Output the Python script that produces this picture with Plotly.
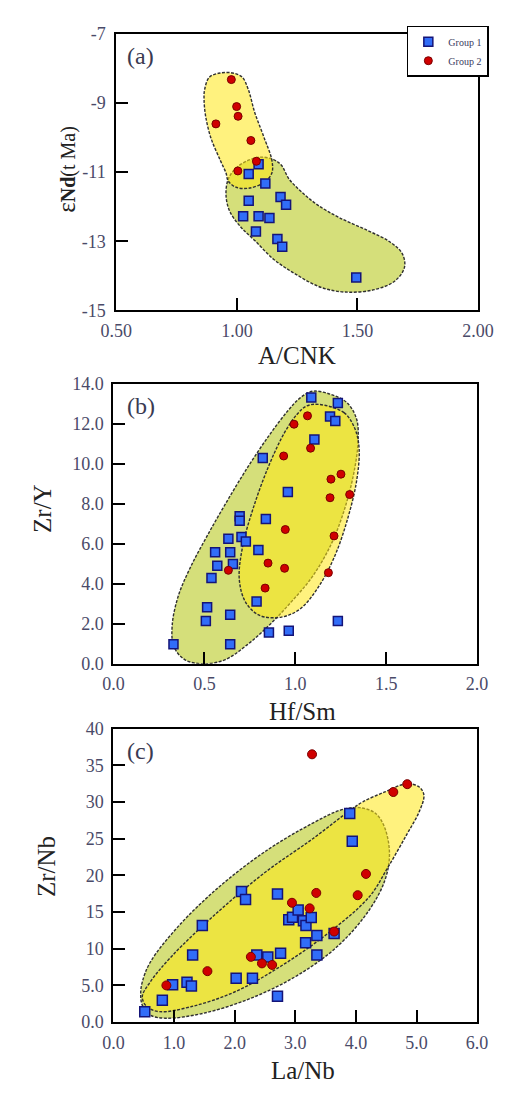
import plotly.graph_objects as go

W, H = 510, 1095

# ---------------- panel (a): A/CNK vs eNd(t) ----------------
a_g1_x = [1.090, 1.049, 1.118, 1.049, 1.181, 1.204, 1.026, 1.090, 1.135, 1.079, 1.168, 1.188, 1.495]
a_g1_y = [-10.78, -11.06, -11.33, -11.83, -11.72, -11.95, -12.28, -12.28, -12.33, -12.72, -12.94, -13.16, -14.05]
a_g2_x = [0.977, 0.999, 1.005, 0.913, 1.058, 1.081, 1.004]
a_g2_y = [-8.33, -9.11, -9.39, -9.61, -10.09, -10.69, -10.97]

# field outlines (data units)
a_field1_x = [0.964, 0.996, 1.048, 1.100, 1.152, 1.184, 1.217, 1.269, 1.334, 1.425, 1.542, 1.632,
              1.685, 1.695, 1.655, 1.570, 1.450, 1.347, 1.243, 1.152, 1.074, 1.016, 0.970, 0.955]
a_field1_y = [-11.21, -10.89, -10.66, -10.57, -10.64, -10.80, -11.21, -11.58, -11.95, -12.32, -12.69, -13.01,
              -13.35, -13.75, -14.15, -14.40, -14.47, -14.33, -13.95, -13.52, -12.98, -12.59, -12.13, -11.67]
a_field2_x = [0.866, 0.886, 0.931, 0.983, 1.022, 1.048, 1.074, 1.113, 1.145, 1.145, 1.113, 1.048,
              0.996, 0.964, 0.955, 0.931, 0.892, 0.870, 0.864]
a_field2_y = [-8.63, -8.26, -8.14, -8.14, -8.26, -8.63, -9.28, -10.01, -10.66, -11.03, -11.30, -11.47,
              -11.44, -11.26, -11.03, -10.66, -10.01, -9.37, -8.91]
a_xticks = [0.5, 1.0, 1.5, 2.0]
a_xtext = ["0.50", "1.00", "1.50", "2.00"]
a_yticks = [-7, -9, -11, -13, -15]
a_ytext = ["-7", "-9", "-11", "-13", "-15"]

# ---------------- panel (b): Hf/Sm vs Zr/Y ----------------
b_g1_x = [1.088, 1.234, 1.191, 1.220, 1.105, 0.821, 0.959, 0.694, 0.694, 0.838, 0.632, 0.704, 0.728, 0.559,
          0.642, 0.797, 0.571, 0.657, 0.539, 0.515, 0.508, 0.642, 0.787, 0.855, 0.964, 1.234, 0.330, 0.642]
b_g1_y = [13.33, 13.05, 12.37, 12.15, 11.22, 10.30, 8.60, 7.38, 7.16, 7.25, 6.26, 6.35, 6.12, 5.58,
          5.58, 5.69, 4.91, 5.00, 4.30, 2.83, 2.14, 2.45, 3.12, 1.57, 1.65, 2.14, 0.98, 0.98]
b_g2_x = [1.067, 0.993, 1.084, 0.936, 1.251, 1.196, 1.191, 1.299, 0.945, 1.213, 0.850, 0.941, 0.632, 1.182, 0.834]
b_g2_y = [12.41, 11.99, 10.79, 10.40, 9.49, 9.24, 8.31, 8.47, 6.72, 6.40, 5.04, 4.78, 4.68, 4.56, 3.79]

b_field1_x = [1.096, 1.199, 1.285, 1.337, 1.345, 1.320, 1.268, 1.199, 1.096, 0.976, 0.856, 0.735, 0.615,
              0.495, 0.392, 0.332, 0.323, 0.357, 0.426, 0.512, 0.615, 0.735, 0.856, 0.959, 1.027]
b_field1_y = [13.64, 13.47, 13.06, 12.25, 11.10, 9.46, 7.66, 6.02, 4.39, 3.08, 1.93, 0.95, 0.21,
              0.00, 0.21, 0.87, 1.93, 3.41, 4.88, 6.35, 7.99, 9.79, 11.43, 12.66, 13.31]
b_field2_x = [1.131, 1.268, 1.328, 1.351, 1.337, 1.285, 1.216, 1.131, 1.027, 0.924, 0.804, 0.727, 0.692,
              0.710, 0.770, 0.856, 0.942, 1.010, 1.062]
b_field2_y = [12.98, 12.57, 11.76, 10.77, 9.14, 7.17, 5.37, 3.90, 2.75, 2.34, 2.42, 3.08, 4.22,
              5.86, 7.83, 9.95, 11.59, 12.49, 12.90]
b_xticks = [0.0, 0.5, 1.0, 1.5, 2.0]
b_xtext = ["0.0", "0.5", "1.0", "1.5", "2.0"]
b_yticks = [0, 2, 4, 6, 8, 10, 12, 14]
b_ytext = ["0.0", "2.0", "4.0", "6.0", "8.0", "10.0", "12.0", "14.0"]

# ---------------- panel (c): La/Nb vs Zr/Nb ----------------
c_g1_x = [0.516, 0.806, 0.976, 1.213, 1.286, 1.306, 1.466, 2.112, 2.179, 2.024, 2.293, 2.365, 2.546, 2.706,
          2.757, 2.706, 2.892, 2.954, 3.047, 3.134, 3.176, 3.263, 3.170, 3.356, 3.356, 3.640, 3.898, 3.940]
c_g1_y = [1.43, 2.99, 5.10, 5.45, 4.92, 9.16, 13.18, 17.79, 16.72, 5.99, 5.99, 9.16, 8.89, 3.53,
          9.39, 17.47, 13.94, 14.30, 15.28, 13.81, 13.18, 14.26, 10.82, 11.80, 9.16, 12.07, 28.42, 24.67]
c_g2_x = [3.276, 4.847, 4.617, 4.166, 4.029, 3.346, 2.945, 3.237, 3.640, 2.267, 2.450, 2.618, 1.550, 0.873]
c_g2_y = [36.50, 32.43, 31.36, 20.20, 17.30, 17.61, 16.27, 15.51, 12.35, 8.90, 8.01, 7.80, 6.95, 5.01]

c_field1_x = [0.449, 0.475, 0.604, 0.862, 1.482, 2.256, 3.031, 3.702, 4.219, 4.477, 4.554, 4.477, 4.322,
              4.064, 3.754, 3.289, 2.515, 1.740, 1.069, 0.604, 0.475]
c_field1_y = [3.89, 2.32, 0.98, 0.54, 1.21, 3.22, 6.35, 10.37, 15.28, 19.31, 22.88, 26.46, 28.47,
              29.23, 28.92, 27.13, 23.33, 18.41, 13.05, 8.13, 5.45]
c_field2_x = [0.475, 0.552, 0.759, 1.275, 1.998, 2.773, 3.547, 4.219, 4.528, 4.838, 5.045, 5.122, 5.045,
              4.838, 4.477, 4.115, 3.909, 3.289, 2.515, 1.740, 0.966, 0.604]
c_field2_y = [3.44, 2.10, 1.43, 2.10, 4.11, 7.69, 12.16, 17.07, 21.10, 25.56, 28.69, 30.93, 32.04,
              32.49, 31.37, 30.03, 28.90, 25.00, 20.50, 15.14, 9.03, 5.45]
c_xticks = [0, 1, 2, 3, 4, 5, 6]
c_xtext = ["0.0", "1.0", "2.0", "3.0", "4.0", "5.0", "6.0"]
c_yticks = [0, 5, 10, 15, 20, 25, 30, 35, 40]
c_ytext = ["0.0", "5.0", "10", "15", "20", "25", "30", "35", "40"]

# ---------------- styling ----------------
SERIF = "Liberation Serif"
TICK_COLOR = "#4a4a68"
GREEN_FILL = "rgb(213,223,122)"
YELLOW_FILL = "rgba(255,232,20,0.55)"
OUTLINE = dict(color="#303030", width=1.4, dash="3px,1.5px", shape="spline", smoothing=1.0)
BLUE = dict(symbol="square", color="#316df8", line=dict(color="#141478", width=1.5))
RED = dict(symbol="circle", color="#d00000", line=dict(color="#7a0000", width=1))


def px_x(v):
    return v / W


def px_y(v):
    return 1 - v / H


fig = go.Figure()


def add_field(xs, ys, fill, ax):
    fig.add_trace(go.Scatter(
        x=list(xs) + [xs[0]], y=list(ys) + [ys[0]], mode="lines",
        fill="toself", fillcolor=fill, line=OUTLINE,
        hoverinfo="skip", showlegend=False, xaxis="x" + ax, yaxis="y" + ax))


def add_points(xs, ys, marker, size, ax, name, legend):
    fig.add_trace(go.Scatter(
        x=xs, y=ys, mode="markers", name=name,
        marker=dict(size=size, **marker),
        showlegend=legend, xaxis="x" + ax, yaxis="y" + ax))


panels = [
    ("", a_field1_x, a_field1_y, a_field2_x, a_field2_y, a_g1_x, a_g1_y, a_g2_x, a_g2_y, 9, True),
    ("2", b_field1_x, b_field1_y, b_field2_x, b_field2_y, b_g1_x, b_g1_y, b_g2_x, b_g2_y, 9, False),
    ("3", c_field1_x, c_field1_y, c_field2_x, c_field2_y, c_g1_x, c_g1_y, c_g2_x, c_g2_y, 10, False),
]
for ax, f1x, f1y, f2x, f2y, g1x, g1y, g2x, g2y, size, leg in panels:
    add_field(f1x, f1y, GREEN_FILL, ax)
    add_field(f2x, f2y, YELLOW_FILL, ax)
    add_points(g1x, g1y, BLUE, size, ax, "Group 1", leg)
    add_points(g2x, g2y, RED, size - 1, ax, "Group 2", leg)

axis_common = dict(
    showgrid=False, zeroline=False, showline=True, linecolor="black", linewidth=2,
    mirror=True, ticks="inside", ticklen=12, tickwidth=2, tickcolor="black",
    tickfont=dict(family=SERIF, size=18, color=TICK_COLOR),
)

fig.update_layout(
    width=W, height=H, margin=dict(l=0, r=0, t=0, b=0),
    paper_bgcolor="white", plot_bgcolor="white",
    font=dict(family=SERIF, color="#222"),
    xaxis=dict(domain=[px_x(107), px_x(493)], range=[0.5, 2.0], anchor="y",
               tickvals=a_xticks, ticktext=a_xtext, ticklabelstandoff=3, **axis_common),
    yaxis=dict(domain=[px_y(306), px_y(24)], range=[-15, -7], anchor="x",
               tickvals=a_yticks, ticktext=a_ytext, ticklabelstandoff=5, **axis_common),
    xaxis2=dict(domain=[px_x(104), px_x(492)], range=[0, 2.0], anchor="y2",
                tickvals=b_xticks, ticktext=b_xtext, ticklabelstandoff=3, **axis_common),
    yaxis2=dict(domain=[px_y(666), px_y(381)], range=[0, 14], anchor="x2",
                tickvals=b_yticks, ticktext=b_ytext, ticklabelstandoff=4, **axis_common),
    xaxis3=dict(domain=[px_x(104), px_x(492)], range=[0, 6], anchor="y3",
                tickvals=c_xticks, ticktext=c_xtext, ticklabelstandoff=3, **axis_common),
    yaxis3=dict(domain=[px_y(1031), px_y(732)], range=[0, 40], anchor="x3",
                tickvals=c_yticks, ticktext=c_ytext, ticklabelstandoff=4, **axis_common),
    legend=dict(x=px_x(417), y=px_y(16), xanchor="left", yanchor="top",
                bgcolor="white", bordercolor="black", borderwidth=1.5,
                font=dict(family=SERIF, size=10, color="#3a3a60"),
                itemwidth=30, tracegroupgap=0),
)

annotations = [
    ("(a)", 133, 47, 0, 24), ("(b)", 133, 403, 0, 24), ("(c)", 133, 755, 0, 24),
    ("A/CNK", 300, 352, 0, 25), ("Hf/Sm", 306, 715, 0, 25), ("La/Nb", 306, 1080, 0, 25),
    ("Zr/Y", 28, 508, -90, 25), ("Zr/Nb", 32, 872, -90, 25),
    ("<span style='font-size:25px'>ε</span><b>Nd</b>(t Ma)", 53, 162, -90, 20),
]
for text, x, y, rot, size in annotations:
    fig.add_annotation(
        text=text, x=px_x(x), y=px_y(y), xref="paper", yref="paper",
        xanchor="center", yanchor="middle", showarrow=False, textangle=rot,
        font=dict(family=SERIF, size=size, color="#3a3a52" if size == 24 else "#222"))

fig.write_html("out.html")
